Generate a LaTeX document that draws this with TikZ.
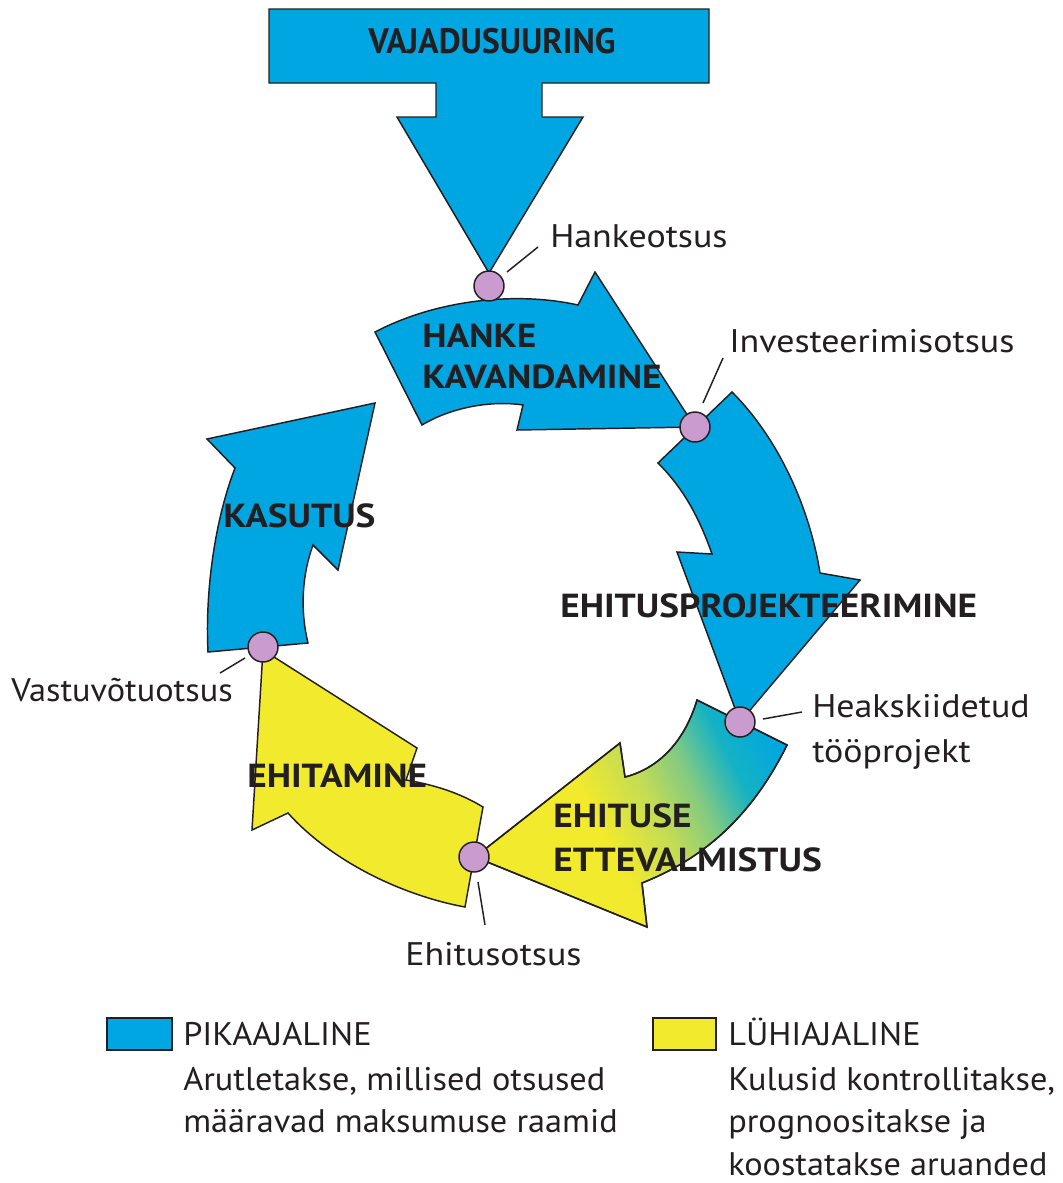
\documentclass[tikz,border=0pt]{standalone}
\usepackage{fontspec}
\setmainfont{PT Sans}
\newfontfamily\lblfont{PT Sans}[FakeStretch=1.1]
\newfontfamily\legfont{PT Sans}[FakeStretch=1.05]
\newfontfamily\phfont{PT Sans}[FakeStretch=1.12]
\newfontfamily\topfont{PT Sans}[FakeStretch=0.96]
\definecolor{cblue}{RGB}{0,166,226}
\definecolor{cyel}{RGB}{242,234,44}
\definecolor{cgrn}{RGB}{196,220,84}
\definecolor{cgrn2}{RGB}{130,202,130}
\definecolor{cteal}{RGB}{20,178,196}
\definecolor{cdot}{RGB}{201,155,206}
\definecolor{cline}{RGB}{35,31,32}
\pgfdeclarehorizontalshading{ettshade}{100bp}{color(0bp)=(cyel); color(44bp)=(cyel); color(54bp)=(cgrn); color(62bp)=(cgrn2); color(70bp)=(cteal); color(79bp)=(cblue); color(100bp)=(cblue)}
\tikzset{
  shapebox/.style={draw=cline, line width=1.1pt, line join=miter},
  bluearr/.style={shapebox, fill=cblue},
  yelarr/.style={shapebox, fill=cyel},
  gradarr/.style={shapebox, shading=ettshade, shading angle=27},
  dot/.style={circle, draw=cline, line width=1.1pt, fill=cdot, minimum size=22.5pt, inner sep=0pt},
  leader/.style={draw=cline, line width=1.1pt},
  phase/.style={font=\phfont\bfseries\fontsize{25}{30}\selectfont, text=cline, inner sep=0pt, anchor=base west},
  lbl/.style={font=\lblfont\fontsize{24.5}{29}\selectfont, text=cline, inner sep=0pt, anchor=base west},
  leg/.style={font=\legfont\fontsize{24.5}{29}\selectfont, text=cline, inner sep=0pt, anchor=base west},
  legbox/.style={draw=cline, line width=1.1pt},
}
\begin{document}
\begin{tikzpicture}[x=0.75pt, y=-0.75pt]
\useasboundingbox (0,0) rectangle (1063,1183);
\fill[white] (0,0) rectangle (1063,1183);

% top arrow
\draw[bluearr] (269,9) -- (709,9) -- (709,83) -- (542,83) -- (542,117) -- (583,117) -- (489,273) -- (397,117) -- (436,117) -- (436,83) -- (269,83) -- cycle;

% HANKE KAVANDAMINE
\draw[bluearr] (375,332) .. controls (440,298) and (520,292) .. (578,305) -- (595,272) -- (695,427) -- (517,430) -- (523,405) .. controls (490,400) and (450,408) .. (422,425) -- cycle;

% EHITUSPROJEKTEERIMINE
\draw[bluearr] (658,463) -- (732,392) .. controls (780,440) and (810,510) .. (820,573) -- (860,580) -- (740,722) -- (677,552) -- (712,554) .. controls (700,520) and (685,490) .. (658,463) -- cycle;

% EHITUSE ETTEVALMISTUS
\shade[gradarr] (697,700) -- (787,745) .. controls (750,820) and (700,860) .. (642,883) -- (647,927) -- (475,857) -- (620,743) -- (625,777) .. controls (660,768) and (685,740) .. (697,700) -- cycle;
\draw[shapebox] (697,700) -- (787,745) .. controls (750,820) and (700,860) .. (642,883) -- (647,927) -- (475,857) -- (620,743) -- (625,777) .. controls (660,768) and (685,740) .. (697,700) -- cycle;

% EHITAMINE
\draw[yelarr] (263,650) -- (417,748) -- (406,780) .. controls (435,785) and (460,793) .. (483,807) -- (465,907) .. controls (400,895) and (330,860) .. (288,813) -- (252,830) -- cycle;

% KASUTUS
\draw[bluearr] (208,652) -- (308,643) .. controls (300,610) and (302,575) .. (313,545) -- (338,570) -- (375,403) -- (207,439) -- (235,468) .. controls (215,520) and (205,590) .. (208,652) -- cycle;

% decision dots
\node[dot] (d1) at (489,286) {};
\node[dot] (d2) at (695,427) {};
\node[dot] (d3) at (740,722) {};
\node[dot] (d4) at (474,857) {};
\node[dot] (d5) at (263,647) {};

% labels
\node[lbl] (t1) at (550,247) {Hankeotsus};
\node[lbl] (t2) at (729,352) {Investeerimisotsus};
\node[lbl] (t3a) at (812,717) {Heakskiidetud};
\node[lbl] (t3b) at (812,762) {tööprojekt};
\node[lbl] (t4) at (405,965) {Ehitusotsus};
\node[leg, anchor=base east] (t5) at (233,701) {Vastuvõtuotsus};

\coordinate (l1a) at (507,272); \coordinate (l1b) at (538,247);
\coordinate (l2a) at (703,403); \coordinate (l2b) at (723,358);
\coordinate (l3a) at (763,719); \coordinate (l3b) at (802,712);
\coordinate (l4a) at (478,882); \coordinate (l4b) at (485,925);
\coordinate (l5a) at (220,673); \coordinate (l5b) at (245,658);
\draw[leader] (l1a) -- (l1b);
\draw[leader] (l2a) -- (l2b);
\draw[leader] (l3a) -- (l3b);
\draw[leader] (l4a) -- (l4b);
\draw[leader] (l5a) -- (l5b);

% phase names
\node[phase, font=\topfont\bfseries\fontsize{26.5}{30}\selectfont] (p0) at (368,53) {VAJADUSUURING};
\node[phase] (p1a) at (422,347) {HANKE};
\node[phase] (p1b) at (422,388) {KAVANDAMINE};
\node[phase] (p2) at (560,617) {EHITUSPROJEKTEERIMINE};
\node[phase] (p3a) at (553,827) {EHITUSE};
\node[phase] (p3b) at (553,871) {ETTEVALMISTUS};
\node[phase] (p4) at (247,787) {EHITAMINE};
\node[phase] (p5) at (223,527) {KASUTUS};

% legend
\draw[legbox, fill=cblue] (107,1018) rectangle (172,1050);
\node[leg] (g1) at (183,1045) {PIKAAJALINE};
\node[leg] (g2) at (183,1090) {Arutletakse, millised otsused};
\node[leg] (g3) at (183,1132) {määravad maksumuse raamid};
\draw[legbox, fill=cyel] (653,1018) rectangle (716,1050);
\node[leg] (h1) at (728,1045) {LÜHIAJALINE};
\node[leg] (h2) at (728,1090) {Kulusid kontrollitakse,};
\node[leg] (h3) at (728,1132) {prognoositakse ja};
\node[leg] (h4) at (728,1175) {koostatakse aruanded};
\end{tikzpicture}
\end{document}
